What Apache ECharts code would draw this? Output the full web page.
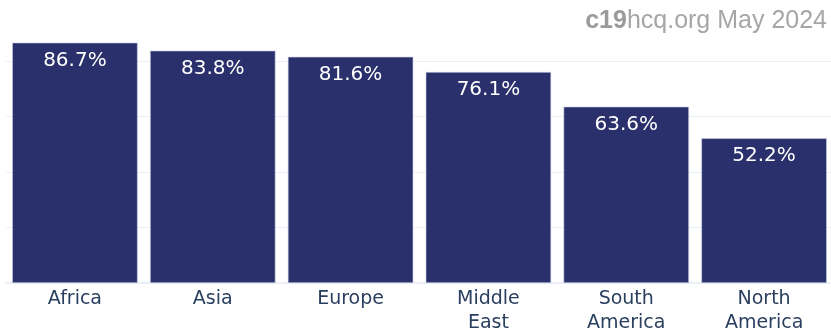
<!DOCTYPE html>
<html>
<head>
<meta charset="utf-8">
<script src="https://cdn.jsdelivr.net/npm/echarts@6/dist/echarts.min.js"></script>
<style>
  html, body { margin: 0; padding: 0; background: #fff; }
  #chart { width: 831px; height: 332px; }
</style>
</head>
<body>
<div id="chart"></div>
<script>
// regions and share (%)
var regions = ['Africa', 'Asia', 'Europe', 'Middle\nEast', 'South\nAmerica', 'North\nAmerica'];
var shares = [86.7, 83.8, 81.6, 76.1, 63.6, 52.2];

var chart = echarts.init(document.getElementById('chart'));

chart.setOption({
	animation: false,
	title: {
		text: '{b|c19}{n|hcq.org May 2024}',
		right: 4,
		top: 9,
		padding: 0,
		textStyle: {
			rich: {
				b: { fontFamily: 'Liberation Sans', fontSize: 25, fontWeight: 'bold', color: '#9a9a9a' },
				n: { fontFamily: 'Liberation Sans', fontSize: 25, fontWeight: 'normal', color: '#a6a6a6' }
			}
		}
	},
	grid: {
		left: 6,
		right: -2,
		top: 30,
		bottom: 49,
		containLabel: false,
		outerBoundsMode: 'none'
	},
	xAxis: {
		type: 'category',
		data: regions,
		axisLine: { lineStyle: { color: '#ebf0f8', width: 2 } },
		axisTick: { show: false },
		axisLabel: {
			color: '#2a3f5f',
			fontFamily: 'DejaVu Sans',
			fontSize: 19,
			lineHeight: 24,
			margin: 4,
			interval: 0
		}
	},
	yAxis: {
		type: 'value',
		min: 0,
		max: 91.26,
		interval: 20,
		axisLabel: { show: false },
		axisLine: { show: false },
		axisTick: { show: false },
		// last line sits on the range top, the reference has none there
		splitLine: { lineStyle: { color: ['#ebf0f8', '#ebf0f8', '#ebf0f8', '#ebf0f8', '#ebf0f8', 'rgba(0,0,0,0)'], width: 1 } }
	},
	series: [{
		type: 'bar',
		data: shares,
		barCategoryGap: '9%',
		itemStyle: {
			color: '#2a306b',
			borderColor: '#c8d0e0',
			borderWidth: 0.6
		},
		label: {
			show: true,
			position: 'insideTop',
			distance: 8,
			color: '#ffffff',
			fontFamily: 'DejaVu Sans',
			fontSize: 20,
			formatter: function (p) { return p.value.toFixed(1) + '%'; }
		}
	}]
});
</script>
</body>
</html>
